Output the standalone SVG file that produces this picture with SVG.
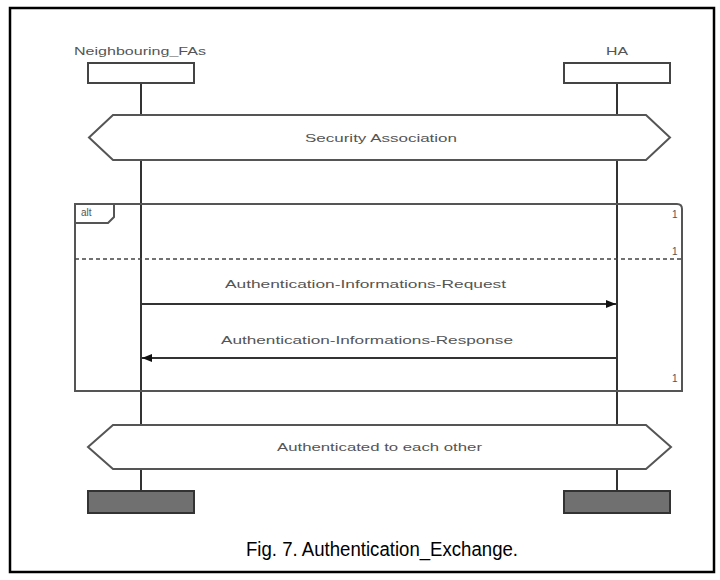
<svg xmlns="http://www.w3.org/2000/svg" width="720" height="580" viewBox="0 0 720 580">
<defs>
<style>
.lbl{font-family:"Liberation Sans",Arial,sans-serif;font-size:11px;fill:#555;}
.small{font-family:"Liberation Sans",Arial,sans-serif;font-size:10px;fill:#555;}
.head{fill:#fff;stroke:#444;stroke-width:2;}
.endbox{fill:#707070;stroke:#333;stroke-width:2;}
.life{stroke:#333;stroke-width:2;fill:none;}
.hex{fill:#fff;stroke:#555;stroke-width:2;}
.frame{fill:none;stroke:#555;stroke-width:2;}
.msg{stroke:#333;stroke-width:2;fill:none;}
.cap{font-family:"Liberation Sans",Arial,sans-serif;font-size:20px;fill:#000;}
</style>
<marker id="ah" viewBox="0 0 10 8" refX="10" refY="4" markerWidth="10" markerHeight="8" markerUnits="userSpaceOnUse" orient="auto">
<path d="M0,0 L10,4 L0,8 Z" fill="#111"/>
</marker>
</defs>
<rect x="0" y="0" width="720" height="580" fill="#fff"/>
<rect x="10" y="8" width="704" height="564" fill="none" stroke="#000" stroke-width="2.5"/>

<g id="connectors">
<line class="life" x1="141" y1="83" x2="141" y2="491"/>
<line class="life" x1="617" y1="83" x2="617" y2="491"/>
</g>

<g id="lifeline-neighbouring">
<text class="lbl" x="74" y="55" textLength="132" lengthAdjust="spacingAndGlyphs">Neighbouring_FAs</text>
<rect class="head" x="88" y="63" width="106" height="20"/>
</g>
<g id="lifeline-ha">
<text class="lbl" x="606" y="55" textLength="22" lengthAdjust="spacingAndGlyphs">HA</text>
<rect class="head" x="564" y="63" width="106" height="20"/>
</g>

<g id="security-association">
<polygon class="hex" points="89,137.5 113,115 646,115 670,137.5 646,160 113,160"/>
<text class="lbl" x="305" y="142" textLength="152" lengthAdjust="spacingAndGlyphs">Security Association</text>
</g>

<g id="alt-frame">
<path class="frame" d="M75,204 H677 Q682,204 682,209 V391 H75 Z"/>
<path class="frame" d="M75,223 H108 L114,217 V204"/>
<text class="small" x="81" y="216" font-size="9">alt</text>
<line x1="75" y1="259" x2="682" y2="259" stroke="#444" stroke-width="1.5" stroke-dasharray="4 3"/>
<text class="small" x="672" y="218">1</text>
<text class="small" x="672" y="255">1</text>
<text class="small" x="672" y="382">1</text>
</g>

<g id="messages">
<line class="msg" x1="141" y1="304" x2="616" y2="304" marker-end="url(#ah)"/>
<text class="lbl" x="225" y="288" textLength="281" lengthAdjust="spacingAndGlyphs">Authentication-Informations-Request</text>
<line class="msg" x1="617" y1="358" x2="142" y2="358" marker-end="url(#ah)"/>
<text class="lbl" x="221" y="344" textLength="292" lengthAdjust="spacingAndGlyphs">Authentication-Informations-Response</text>
</g>

<g id="authenticated">
<polygon class="hex" points="88,447 113,425 646,425 671,447 646,469 113,469"/>
<text class="lbl" x="277" y="451" textLength="205" lengthAdjust="spacingAndGlyphs">Authenticated to each other</text>
</g>

<g id="end-neighbouring">
<rect class="endbox" x="88" y="491" width="106" height="22"/>
</g>
<g id="end-ha">
<rect class="endbox" x="564" y="491" width="106" height="22"/>
</g>

<text class="cap" x="246" y="556" textLength="272" lengthAdjust="spacingAndGlyphs">Fig. 7. Authentication_Exchange.</text>
</svg>
